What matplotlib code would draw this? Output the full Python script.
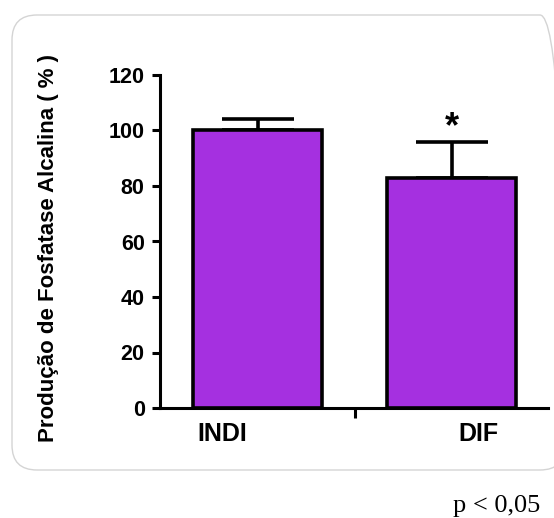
import matplotlib
matplotlib.use('Agg')
import matplotlib.pyplot as plt
import matplotlib.transforms as mtransforms
from matplotlib.patches import FancyBboxPatch
import numpy as np

# data
groups = ['INDI', 'DIF']
means = [100, 83]
sem_up = [4, 13]
signif = ['', '*']

BAR_COLOR = '#A530E0'

plt.rcParams['font.family'] = ['Liberation Sans', 'DejaVu Sans']
plt.rcParams['font.weight'] = 'bold'

fig = plt.figure(figsize=(5.54, 5.18), dpi=100)

# rounded light grey frame behind the chart
frame = FancyBboxPatch((0.12, 0.48), 5.53, 4.55,
                       boxstyle='round,pad=0,rounding_size=0.25',
                       transform=fig.dpi_scale_trans,
                       facecolor='none', edgecolor='#d4d4d4', linewidth=1.0, zorder=-1)
fig.patches.append(frame)

ax = fig.add_axes([160 / 554, 110 / 518, 388 / 554, 333 / 518])
ax.set_facecolor('none')

x = np.arange(len(groups))
ax.bar(x, means, width=0.665, color=BAR_COLOR, edgecolor='black', linewidth=2.6, zorder=3)
ax.errorbar(x, means, yerr=[np.zeros(len(means)), sem_up], fmt='none',
            ecolor='black', elinewidth=2.6, capsize=26, capthick=2.6, zorder=2)

# significance marks above the error bars
for xi, m, e, s in zip(x, means, sem_up, signif):
    if s:
        ax.text(xi, m + e + 5, s, ha='center', va='center', fontsize=26, fontweight='bold')

ax.set_xlim(-0.505, 1.495)
ax.set_ylim(0, 120)
ax.set_yticks(np.arange(0, 121, 20))

for side in ['top', 'right']:
    ax.spines[side].set_visible(False)
for side in ['left', 'bottom']:
    ax.spines[side].set_linewidth(2.2)

ax.tick_params(axis='y', length=6, width=2.2, labelsize=15.5, pad=5)

# single tick between groups, labels as minor ticks at bar centres
ax.set_xticks([0.5])
ax.set_xticklabels([''])
ax.set_xticks(x, minor=True)
ax.set_xticklabels(groups, minor=True)
ax.tick_params(axis='x', which='major', length=7, width=2.2, direction='out')
ax.tick_params(axis='x', which='minor', length=0, labelsize=18, pad=10)

shifts = [-36, 26]
for lab, dx in zip(ax.xaxis.get_minorticklabels(), shifts):
    lab.set_transform(lab.get_transform() +
                      mtransforms.ScaledTranslation(dx / 100, 0, fig.dpi_scale_trans))

for lab in ax.get_yticklabels() + ax.xaxis.get_minorticklabels():
    lab.set_fontweight('bold')

fig.text(49 / 554, 1 - 248 / 518, 'Produção de Fosfatase Alcalina ( % )', rotation=90,
         ha='center', va='center', fontsize=16, fontweight='bold')

fig.text(540 / 554, 1 - 512 / 518, 'p < 0,05', ha='right', va='baseline',
         fontsize=19, fontweight='normal', family=['Liberation Serif', 'DejaVu Serif'])

fig.savefig('out.png', dpi=100)
